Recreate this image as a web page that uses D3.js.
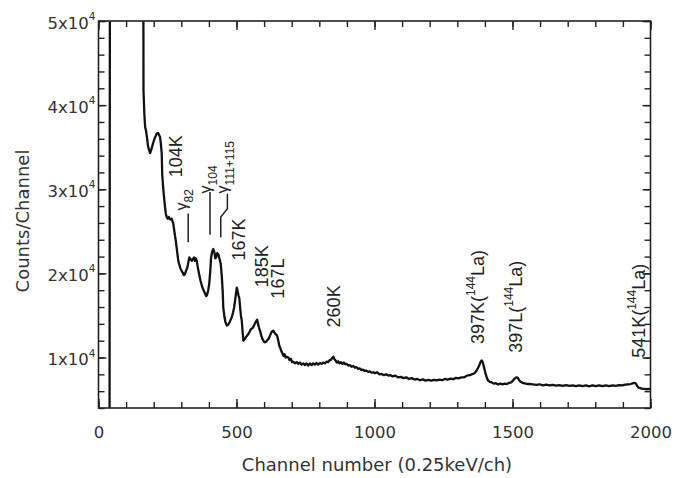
<!DOCTYPE html>
<html>
<head>
<meta charset="utf-8">
<script src="https://cdn.jsdelivr.net/npm/d3@7"></script>
<style>
  body { margin: 0; background: #fff; }
  svg { display: block; }
</style>
</head>
<body>
<svg id="chart" width="687" height="478"></svg>
<script>
// Gamma/electron spectrum: channel number vs counts per channel
const channels = [
  40, 42, 161, 163, 166, 169, 172, 175, 177, 179, 183, 187, 192, 198, 204, 211, 216, 223, 226, 229,
  231, 235, 238, 241, 244, 247, 251, 255, 260, 265, 268, 271, 274, 277, 280, 283, 286, 289, 293, 297,
  301, 305, 309, 313, 317, 322, 326, 329, 333, 338, 342, 346, 349, 352, 356, 359, 362, 366, 370, 374,
  378, 382, 386, 390, 393, 397, 401, 405, 408, 412, 416, 420, 423, 426, 430, 434, 438, 443, 447, 450,
  452, 456, 460, 465, 470, 475, 479, 483, 487, 491, 495, 498, 501, 504, 507, 510, 513, 516, 519, 522,
  525, 530, 536, 543, 548, 553, 558, 562, 566, 571, 575, 578, 582, 585, 590, 594, 599, 603, 608, 612,
  616, 620, 625, 629, 633, 637, 641, 645, 648, 652, 655, 658, 662, 666, 670, 674, 678, 682, 688, 692,
  697, 701, 706, 712, 718, 724, 730, 736, 742, 748, 754, 760, 766, 772, 778, 784, 790, 796, 802, 808,
  814, 820, 826, 832, 838, 843, 847, 851, 855, 859, 863, 868, 873, 878, 884, 889, 894, 899, 905, 911,
  917, 923, 929, 935, 941, 947, 953, 959, 965, 971, 977, 983, 989, 995, 1002, 1010, 1018, 1026, 1034, 1042,
  1050, 1058, 1066, 1075, 1085, 1095, 1105, 1115, 1125, 1135, 1145, 1155, 1165, 1175, 1185, 1195, 1205, 1215, 1225, 1235,
  1245, 1255, 1265, 1275, 1285, 1295, 1305, 1315, 1325, 1335, 1345, 1352, 1358, 1364, 1370, 1375, 1380, 1384, 1388, 1391,
  1394, 1397, 1400, 1404, 1408, 1412, 1418, 1425, 1432, 1440, 1448, 1456, 1464, 1472, 1480, 1488, 1495, 1500, 1505, 1510,
  1515, 1519, 1523, 1528, 1533, 1540, 1548, 1556, 1565, 1575, 1587, 1598, 1610, 1622, 1634, 1646, 1658, 1670, 1682, 1694,
  1706, 1718, 1730, 1742, 1754, 1766, 1778, 1790, 1802, 1814, 1826, 1838, 1850, 1862, 1874, 1886, 1898, 1908, 1918, 1928,
  1938, 1944, 1948, 1952, 1956, 1962, 1968, 1976, 1984, 1992, 2000
];
const counts = [
  0, 90000, 90000, 41800, 39000, 37400, 37000, 36300, 35800, 35200, 34700, 34300, 34800, 35500, 36100, 36600, 36700, 36200, 35400, 34300,
  31700, 29900, 28900, 27900, 27100, 26700, 26500, 26700, 26400, 26500, 26200, 25900, 25200, 24500, 23900, 23100, 22300, 21500, 21000, 20600,
  20300, 20100, 19800, 19900, 20300, 20700, 21400, 21900, 21700, 21500, 21700, 21900, 21500, 21800, 21500, 20900, 20300, 19700, 19100, 18600,
  18200, 17900, 17600, 17300, 17400, 17900, 18700, 20300, 21900, 22600, 22900, 22500, 21800, 21900, 22400, 22300, 21800, 21100, 19500, 17900,
  16000, 14900, 14200, 13800, 13900, 14200, 14500, 14800, 15300, 15900, 16800, 17600, 18300, 17900, 17400, 17100, 16000, 15000, 14400, 13100,
  12000, 12200, 12500, 12800, 13100, 13400, 13500, 13700, 14000, 14300, 14500, 14000, 13500, 13200, 12600, 12200, 11900, 11800, 11900, 12100,
  12200, 12500, 12900, 13100, 13200, 13000, 12800, 12700, 12500, 11900, 11400, 11200, 10800, 10500, 10200, 10400, 10000, 10100, 10000, 9700,
  9850, 9450, 9500, 9300, 9450, 9250, 9400, 9150, 9300, 9100, 9300, 9050, 9300, 9100, 9300, 9150, 9350, 9150, 9350, 9250,
  9400, 9300, 9500, 9450, 9700, 9750, 9950, 10100, 9800, 9650, 9400, 9550, 9300, 9450, 9250, 9400, 9200, 9250, 9050, 9100,
  8900, 9000, 8800, 8850, 8650, 8700, 8500, 8550, 8400, 8450, 8300, 8350, 8200, 8250, 8150, 8250, 8000, 8050, 7900, 8000,
  7850, 7900, 7750, 7850, 7650, 7700, 7550, 7650, 7450, 7550, 7380, 7450, 7300, 7400, 7250, 7350, 7250, 7350, 7280, 7380,
  7300, 7450, 7380, 7500, 7420, 7580, 7520, 7650, 7650, 7850, 7900, 8000, 8050, 8200, 8450, 8750, 9100, 9450, 9650, 9550,
  9200, 8800, 8400, 7900, 7500, 7250, 7100, 7050, 6900, 6950, 6800, 6900, 6800, 6900, 6850, 7000, 7050, 7200, 7400, 7550,
  7650, 7600, 7350, 7150, 7050, 6950, 6900, 6850, 6850, 6800, 6750, 6820, 6700, 6780, 6690, 6760, 6650, 6730, 6640, 6720,
  6620, 6700, 6600, 6690, 6610, 6700, 6580, 6680, 6600, 6690, 6590, 6680, 6610, 6700, 6620, 6720, 6680, 6780, 6820, 6850,
  6950, 6980, 6850, 6600, 6420, 6380, 6300, 6280, 6230, 6260, 6250
];

// Axis ticks
const xMajorTicks = [0, 500, 1000, 1500, 2000];
const xMinorTicks = d3.range(0, 2001, 100);
const yMajorTicks = [10000, 20000, 30000, 40000, 50000];
const yMinorTicks = d3.range(4000, 50001, 2000);

// Peak annotations (rotated), anchored at the start of the text
const peakLabels = [
  { text: "104K", ch: 304, c: 31420 },
  { text: "167K", ch: 531, c: 21530 },
  { text: "185K", ch: 615, c: 18350 },
  { text: "167L", ch: 672, c: 17000 },
  { text: "260K", ch: 875, c: 13580 }
];
const isotopeLabels = [
  { head: "397K(", ch: 1397, c: 11600 },
  { head: "397L(", ch: 1533, c: 10560 },
  { head: "541K(", ch: 1980, c: 9960 }
];
const gammaLabels = [
  { sub: "82", ch: 321, c: 27490 },
  { sub: "104", ch: 408, c: 29510 },
  { sub: "111+115", ch: 471, c: 29510 }
];
const gammaLeaders = [
  [[325, 27130], [325, 23710]],
  [[404, 29670], [404, 24600]],
  [[467, 29480], [467, 27680], [443, 26690], [443, 24300]]
];

const svg = d3.select("#chart");
const x = d3.scaleLinear().domain([0, 2000]).range([98.5, 650.5]);
const y = d3.scaleLinear().domain([4000, 50000]).range([408, 21]);
const [x0, x1] = x.range();
const [y0, y1] = y.range();

const axisFont = "'DejaVu Sans', Verdana, sans-serif";
const labelFont = "'Liberation Sans', Arial, sans-serif";

// Spectrum trace, clipped to the plot frame
svg.append("defs").append("clipPath").attr("id", "plotClip")
  .append("rect").attr("x", x0).attr("y", y1).attr("width", x1 - x0).attr("height", y0 - y1);

const line = d3.line()
  .x(i => x(channels[i]))
  .y(i => y(counts[i]));

svg.append("path")
  .datum(d3.range(channels.length))
  .attr("clip-path", "url(#plotClip)")
  .attr("d", line)
  .attr("fill", "none")
  .attr("stroke", "#111")
  .attr("stroke-width", 2.3)
  .attr("stroke-linejoin", "round");

// Axes: ticks point inward on all four sides
function styleAxis(g) {
  g.selectAll("path.domain").remove();
  g.selectAll(".tick line").attr("stroke", "#222").attr("stroke-width", 1.4);
}

svg.append("g").attr("transform", `translate(0,${y0})`)
  .call(d3.axisBottom(x).tickValues(xMinorTicks).tickSize(-6).tickFormat(""))
  .call(styleAxis);
svg.append("g").attr("transform", `translate(0,${y1})`)
  .call(d3.axisTop(x).tickValues(xMinorTicks).tickSize(-6).tickFormat(""))
  .call(styleAxis);
svg.append("g").attr("transform", `translate(0,${y0})`)
  .call(d3.axisBottom(x).tickValues(xMajorTicks).tickSize(-9).tickPadding(18).tickFormat(d3.format("d")))
  .call(styleAxis)
  .call(g => g.selectAll("text")
    .attr("font-family", axisFont).attr("font-size", 16.5).attr("fill", "#333"));
svg.append("g").attr("transform", `translate(0,${y1})`)
  .call(d3.axisTop(x).tickValues(xMajorTicks).tickSize(-9).tickFormat(""))
  .call(styleAxis);

svg.append("g").attr("transform", `translate(${x0},0)`)
  .call(d3.axisLeft(y).tickValues(yMinorTicks).tickSize(-6).tickFormat(""))
  .call(styleAxis);
svg.append("g").attr("transform", `translate(${x1},0)`)
  .call(d3.axisRight(y).tickValues(yMinorTicks).tickSize(-6).tickFormat(""))
  .call(styleAxis);
svg.append("g").attr("transform", `translate(${x0},0)`)
  .call(d3.axisLeft(y).tickValues(yMajorTicks).tickSize(-8).tickPadding(3).tickFormat(""))
  .call(styleAxis)
  .call(g => g.selectAll(".tick text")
    .attr("font-family", axisFont).attr("font-size", 16.5).attr("fill", "#333")
    .attr("dy", "0.45em")
    .each(function (d) {
      const t = d3.select(this);
      t.text(null);
      t.append("tspan").text(`${d / 10000}x10`);
      t.append("tspan").attr("font-size", 10.5).attr("dy", "-0.85em").text("4");
    }));
svg.append("g").attr("transform", `translate(${x1},0)`)
  .call(d3.axisRight(y).tickValues(yMajorTicks).tickSize(-8).tickFormat(""))
  .call(styleAxis);

// Plot frame
svg.append("rect")
  .attr("x", x0).attr("y", y1).attr("width", x1 - x0).attr("height", y0 - y1)
  .attr("fill", "none").attr("stroke", "#222").attr("stroke-width", 1.6);

// Axis titles
svg.append("text")
  .attr("x", 377).attr("y", 471)
  .attr("text-anchor", "middle")
  .attr("font-family", axisFont).attr("font-size", 18).attr("fill", "#333")
  .text("Channel number (0.25keV/ch)");
svg.append("text")
  .attr("transform", "translate(28.5,221) rotate(-90)")
  .attr("text-anchor", "middle")
  .attr("font-family", axisFont).attr("font-size", 18).attr("fill", "#333")
  .text("Counts/Channel");

// Peak labels
const ann = svg.append("g").attr("font-family", labelFont).attr("fill", "#222");
ann.selectAll("text.peak").data(peakLabels).join("text")
  .attr("class", "peak")
  .attr("transform", d => `translate(${x(d.ch)},${y(d.c)}) rotate(-90)`)
  .attr("font-size", 18)
  .text(d => d.text);

ann.selectAll("text.iso").data(isotopeLabels).join("text")
  .attr("class", "iso")
  .attr("transform", d => `translate(${x(d.ch)},${y(d.c)}) rotate(-90)`)
  .attr("font-size", 18)
  .each(function (d) {
    const t = d3.select(this);
    t.append("tspan").text(d.head);
    t.append("tspan").attr("font-size", 12).attr("dy", "-0.75em").text("144");
    t.append("tspan").attr("dy", "0.5em").text("La)");
  });

ann.selectAll("text.gamma").data(gammaLabels).join("text")
  .attr("class", "gamma")
  .attr("transform", d => `translate(${x(d.ch)},${y(d.c)}) rotate(-90)`)
  .attr("font-size", 16)
  .each(function (d) {
    const t = d3.select(this);
    t.append("tspan").text("γ");
    t.append("tspan").attr("font-size", 12).attr("dy", "0.45em").text(d.sub);
  });

// Leader lines under the gamma labels
const leader = d3.line().x(p => x(p[0])).y(p => y(p[1]));
svg.append("g").selectAll("path").data(gammaLeaders).join("path")
  .attr("d", leader)
  .attr("fill", "none")
  .attr("stroke", "#222")
  .attr("stroke-width", 1.5);
</script>
</body>
</html>
